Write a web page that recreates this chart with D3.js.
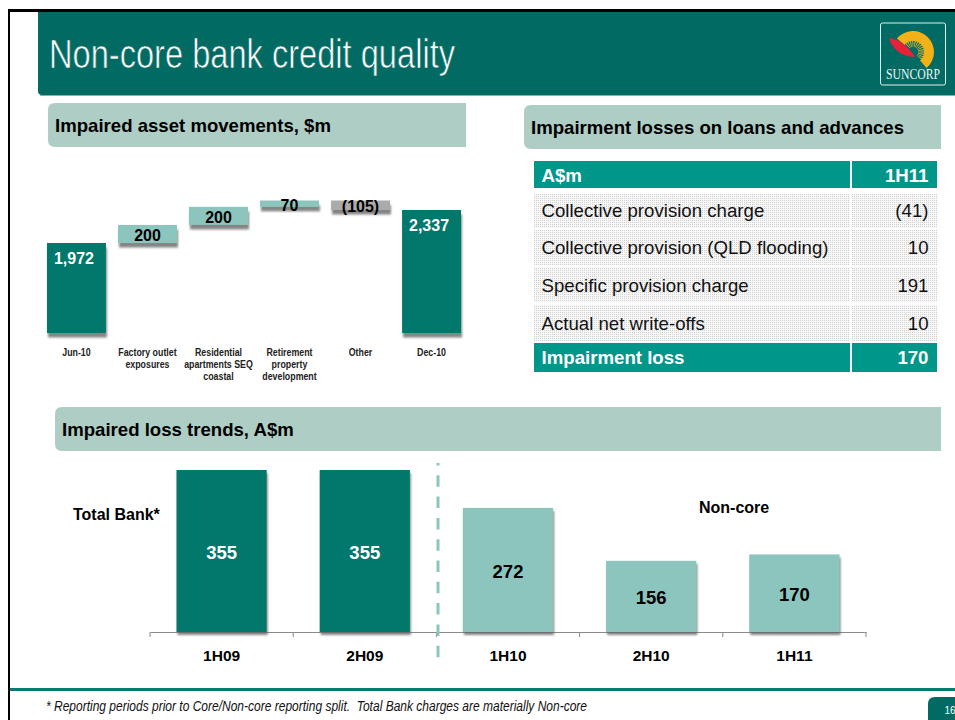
<!DOCTYPE html>
<html>
<head>
<meta charset="utf-8">
<script src="https://cdn.jsdelivr.net/npm/d3@7"></script>
<style>
  html, body { margin: 0; padding: 0; background: #fff; overflow: hidden; }
  svg { display: block; font-family: "Liberation Sans", Arial, sans-serif; }
</style>
</head>
<body>
<svg id="root" width="955" height="720"></svg>
<script>
"use strict";

// waterfall chart
const movementLabels = [
  ["Jun-10"],
  ["Factory outlet", "exposures"],
  ["Residential", "apartments SEQ", "coastal"],
  ["Retirement", "property", "development"],
  ["Other"],
  ["Dec-10"],
];
const movementValues = [1972, 200, 200, 70, -105, 2337];
const movementText = ["1,972", "200", "200", "70", "(105)", "2,337"];
const movementKinds = ["total", "up", "up", "up", "down", "total"];

// table
const tableHeader = ["A$m", "1H11"];
const tableRows = [
  "Collective provision charge",
  "Collective provision (QLD flooding)",
  "Specific provision charge",
  "Actual net write-offs",
];
const tableValues = ["(41)", "10", "191", "10"];
const tableTotal = ["Impairment loss", "170"];

// trend chart
const trendPeriods = ["1H09", "2H09", "1H10", "2H10", "1H11"];
const trendValues = [355, 355, 272, 156, 170];
const trendDark = [true, true, false, false, false];

const colors = {
  header: "#006A63",
  band: "#AECDC4",
  dark: "#06786C",
  light: "#8CC5BE",
  grey: "#ABABAB",
  table: "#00968A",
};

const svg = d3.select("#root");
const defs = svg.append("defs");

addShadow("barShadow", 3);
addShadow("stepShadow", 4.5);

function addShadow(id, dy) {
  defs
    .append("filter")
    .attr("id", id)
    .attr("x", "-10%")
    .attr("y", "-10%")
    .attr("width", "125%")
    .attr("height", "200%")
    .attr("filterUnits", "objectBoundingBox")
    .append("feDropShadow")
    .attr("dx", 1)
    .attr("dy", dy)
    .attr("stdDeviation", 1.2)
    .attr("flood-color", "#666")
    .attr("flood-opacity", 0.8);
}

const dots = defs
  .append("pattern")
  .attr("id", "dots")
  .attr("width", 4)
  .attr("height", 4)
  .attr("patternUnits", "userSpaceOnUse");
dots.append("rect").attr("width", 4).attr("height", 4).attr("fill", "#F8F8F8");
[
  [0, 0],
  [2, 0],
  [0, 2],
  [2, 2],
].forEach(([px, py]) => {
  dots
    .append("rect")
    .attr("x", px)
    .attr("y", py)
    .attr("width", 1)
    .attr("height", 1)
    .attr("fill", "#D0D0D0");
});

drawFrame();
drawLogo();
drawBand(48, 103, 418, 44, "Impaired asset movements, $m", 55);
drawBand(524, 105, 417, 44, "Impairment losses on loans and advances", 531);
drawBand(55, 407, 886, 44, "Impaired loss trends, A$m", 62);
drawWaterfall();
drawTable();
drawTrends();
drawFooter();

function drawFrame() {
  svg
    .append("path")
    .attr("d", "M38,11H955V95H42Q38,95 38,91Z")
    .attr("fill", colors.header);
  svg
    .append("rect")
    .attr("x", 40)
    .attr("y", 95)
    .attr("width", 915)
    .attr("height", 1)
    .attr("fill", "#7FB5AE");
  svg
    .append("rect")
    .attr("x", 8)
    .attr("y", 9)
    .attr("width", 947)
    .attr("height", 3)
    .attr("fill", "#000");
  svg
    .append("rect")
    .attr("x", 8)
    .attr("y", 9)
    .attr("width", 2)
    .attr("height", 711)
    .attr("fill", "#000");
  // a thin outline in the header colour makes the squeezed glyphs look light
  svg
    .append("text")
    .attr("x", 49)
    .attr("y", 67.5)
    .attr("fill", "#fff")
    .attr("stroke", colors.header)
    .attr("stroke-width", 0.7)
    .attr("textLength", 406)
    .attr("lengthAdjust", "spacingAndGlyphs")
    .style("font-size", "40px")
    .text("Non-core bank credit quality");
}

function drawLogo() {
  const logo = svg.append("g").attr("transform", "translate(913, 52)");
  logo
    .append("rect")
    .attr("x", -32.5)
    .attr("y", -29)
    .attr("width", 65)
    .attr("height", 62)
    .attr("rx", 2)
    .attr("fill", "none")
    .attr("stroke", "#E4EFEC")
    .attr("stroke-width", 1);

  const arc = d3.arc();
  const toRad = Math.PI / 180;
  logo
    .append("path")
    .attr("fill", "#F2B117")
    .attr(
      "d",
      arc({
        innerRadius: 11,
        outerRadius: 21,
        startAngle: -50 * toRad,
        endAngle: 140 * toRad,
      })
    );
  d3.range(-40, 135, 13).forEach((angle) => {
    logo
      .append("path")
      .attr("fill", "#D9AE2A")
      .attr(
        "d",
        arc({
          innerRadius: 5,
          outerRadius: 12,
          startAngle: (angle - 3) * toRad,
          endAngle: (angle + 3) * toRad,
        })
      );
  });
  logo
    .append("path")
    .attr("d", "M-24,-14C-14,-13 -5,-6 2,5C-10,5 -21,-2 -24,-14Z")
    .attr("fill", "#E8203A");
  logo
    .append("text")
    .attr("x", 0)
    .attr("y", 26.5)
    .attr("text-anchor", "middle")
    .attr("fill", "#F1F6F4")
    .attr("textLength", 54)
    .attr("lengthAdjust", "spacingAndGlyphs")
    .style("font-family", '"Liberation Serif", serif')
    .style("font-size", "14px")
    .text("SUNCORP");
}

function drawBand(x, y, width, height, label, textX) {
  svg
    .append("path")
    .attr(
      "d",
      `M${x + 7},${y}H${x + width}V${y + height}H${x + 7}Q${x},${y + height} ${x},${y + height - 7}V${y + 7}Q${x},${y} ${x + 7},${y}Z`
    )
    .attr("fill", colors.band);
  svg
    .append("text")
    .attr("x", textX)
    .attr("y", y + 28.5)
    .attr("fill", "#000")
    .style("font-size", "18.6px")
    .style("font-weight", "bold")
    .text(label);
}

function drawWaterfall() {
  const g = svg.append("g").attr("id", "waterfall");
  const x = d3
    .scaleBand()
    .domain(d3.range(movementValues.length))
    .range([47, 461])
    .paddingInner(0.17)
    .paddingOuter(0);
  // the axis of the original is cut off well above zero
  const y = d3.scaleLinear().domain([977, 2442]).range([333, 200.5]);

  let running = 0;
  const steps = movementValues.map((value, index) => {
    if (movementKinds[index] === "total") {
      running = value;
      return { index, from: y.domain()[0], to: value };
    }
    const from = running;
    running += value;
    return { index, from, to: running };
  });

  const fill = { total: colors.dark, up: colors.light, down: colors.grey };

  g.selectAll("rect")
    .data(steps)
    .join("rect")
    .attr("x", (d) => x(d.index))
    .attr("y", (d) => y(Math.max(d.from, d.to)))
    .attr("width", x.bandwidth())
    .attr("height", (d) => Math.abs(y(d.from) - y(d.to)))
    .attr("fill", (d) => fill[movementKinds[d.index]])
    .attr("filter", "url(#stepShadow)");

  g.selectAll("text.value")
    .data(steps)
    .join("text")
    .attr("class", "value")
    .attr("x", (d) => {
      const centre = x(d.index) + x.bandwidth() / 2;
      return movementKinds[d.index] === "total" ? centre - 2.5 : centre;
    })
    .attr("y", (d) =>
      movementKinds[d.index] === "total"
        ? y(d.to) + 21
        : (y(d.from) + y(d.to)) / 2 + 7
    )
    .attr("text-anchor", "middle")
    .attr("fill", (d) => (movementKinds[d.index] === "total" ? "#fff" : "#000"))
    .style("font-size", "16px")
    .style("font-weight", "bold")
    .text((d) => movementText[d.index]);

  movementLabels.forEach((lines, i) => {
    lines.forEach((line, j) => {
      const label = g
        .append("text")
        .attr("x", x(i) + x.bandwidth() / 2)
        .attr("y", 356 + j * 12)
        .attr("text-anchor", "middle")
        .attr("fill", "#222")
        .style("font-size", "10.5px")
        .style("font-weight", "bold")
        .text(line);
      // no narrow face is installed, so squeeze the line instead
      label
        .attr("textLength", label.node().getComputedTextLength() * 0.84)
        .attr("lengthAdjust", "spacingAndGlyphs");
    });
  });
}

function drawTable() {
  const g = svg.append("g").attr("id", "table");
  const cols = [
    { x: 534, width: 316 },
    { x: 852, width: 85 },
  ];
  const rowTops = [194, 230, 267, 305];
  const rowHeights = [34, 35, 35, 36];
  const rowBaselines = [217, 253.5, 291.5, 330];

  function cell(col, top, height, fill) {
    g.append("rect")
      .attr("x", cols[col].x)
      .attr("y", top)
      .attr("width", cols[col].width)
      .attr("height", height)
      .attr("fill", fill);
  }

  function rowText(label, value, baseline, bold, color) {
    [
      [label, 541.5, "start"],
      [value, 928.5, "end"],
    ].forEach(([text, tx, anchor]) => {
      g.append("text")
        .attr("x", tx)
        .attr("y", baseline)
        .attr("text-anchor", anchor)
        .attr("fill", color)
        .style("font-size", "18.65px")
        .style("font-weight", bold ? "bold" : "normal")
        .text(text);
    });
  }

  cell(0, 161, 27, colors.table);
  cell(1, 161, 27, colors.table);
  rowText(tableHeader[0], tableHeader[1], 182, true, "#fff");

  tableRows.forEach((label, i) => {
    cell(0, rowTops[i], rowHeights[i], "url(#dots)");
    cell(1, rowTops[i], rowHeights[i], "url(#dots)");
    rowText(label, tableValues[i], rowBaselines[i], false, "#111");
  });

  cell(0, 343, 29, colors.table);
  cell(1, 343, 29, colors.table);
  rowText(tableTotal[0], tableTotal[1], 364, true, "#fff");
}

function drawTrends() {
  const g = svg.append("g").attr("id", "trends");
  const x = d3
    .scaleBand()
    .domain(trendPeriods)
    .range([150, 866])
    .paddingInner(0.37)
    .paddingOuter(0.185);
  const y = d3.scaleLinear().domain([0, 355]).range([632, 470]);

  const axis = g
    .append("g")
    .attr("transform", `translate(0, ${y(0)})`)
    .call(d3.axisBottom(x).tickSize(0).tickPadding(18));
  axis.select(".domain").attr("stroke", "#8A8A8A");
  axis
    .selectAll(".tick text")
    .attr("fill", "#000")
    .style("font-family", '"Liberation Sans", sans-serif')
    .style("font-size", "15.5px")
    .style("font-weight", "bold");
  // tick marks sit between the categories
  axis
    .selectAll("line.edge")
    .data(d3.range(trendPeriods.length + 1))
    .join("line")
    .attr("class", "edge")
    .attr("x1", (d) => x.range()[0] + d * x.step())
    .attr("x2", (d) => x.range()[0] + d * x.step())
    .attr("y1", 0)
    .attr("y2", 5)
    .attr("stroke", "#8A8A8A");

  g.selectAll("rect")
    .data(trendValues)
    .join("rect")
    .attr("x", (d, i) => x(trendPeriods[i]))
    .attr("y", (d) => y(d))
    .attr("width", x.bandwidth())
    .attr("height", (d) => y(0) - y(d))
    .attr("fill", (d, i) => (trendDark[i] ? colors.dark : colors.light))
    .attr("filter", "url(#barShadow)");

  g.selectAll("text.value")
    .data(trendValues)
    .join("text")
    .attr("class", "value")
    .attr("x", (d, i) => x(trendPeriods[i]) + x.bandwidth() / 2)
    .attr("y", (d) => (y(d) + y(0)) / 2 + 8)
    .attr("text-anchor", "middle")
    .attr("fill", (d, i) => (trendDark[i] ? "#fff" : "#000"))
    .style("font-size", "18.5px")
    .style("font-weight", "bold")
    .text((d) => d);

  g.append("line")
    .attr("x1", 438)
    .attr("x2", 438)
    .attr("y1", 463)
    .attr("y2", 658)
    .attr("stroke", colors.light)
    .attr("stroke-width", 3)
    .attr("stroke-dasharray", "11.5 9.8")
    .attr("stroke-dashoffset", 9);

  g.append("text")
    .attr("x", 73)
    .attr("y", 519.5)
    .style("font-size", "16px")
    .style("font-weight", "bold")
    .text("Total Bank*");
  g.append("text")
    .attr("x", 699)
    .attr("y", 512.5)
    .style("font-size", "16px")
    .style("font-weight", "bold")
    .text("Non-core");
}

function drawFooter() {
  svg
    .append("rect")
    .attr("x", 10)
    .attr("y", 688)
    .attr("width", 945)
    .attr("height", 3)
    .attr("fill", "#0A7A6E");
  svg
    .append("text")
    .attr("x", 46)
    .attr("y", 711)
    .attr("fill", "#111")
    .attr("textLength", 541)
    .attr("lengthAdjust", "spacingAndGlyphs")
    .style("font-size", "14px")
    .style("font-style", "italic")
    .style("white-space", "pre")
    .text(
      "* Reporting periods prior to Core/Non-core reporting split.  Total Bank charges are materially Non-core"
    );
  svg
    .append("path")
    .attr("d", "M928,720V704Q928,697 935,697H955V720Z")
    .attr("fill", colors.header);
  svg
    .append("text")
    .attr("x", 944.5)
    .attr("y", 714)
    .attr("fill", "#fff")
    .style("font-size", "10px")
    .text("16");
}
</script>
</body>
</html>
